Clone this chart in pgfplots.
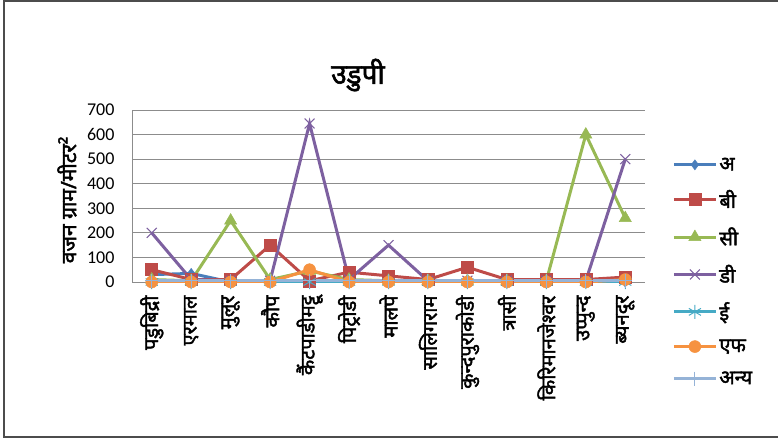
\documentclass[border=0pt]{standalone}
\usepackage{fontspec}
\setmainfont{Carlito}
\newfontfamily\deva[Script=Devanagari, FakeBold=2]{Noto Sans}
\usepackage{pgfplots}
\pgfplotsset{compat=1.18}
\usetikzlibrary{plotmarks}
\definecolor{sA}{HTML}{4A7EBB}
\definecolor{sB}{HTML}{BE4B48}
\definecolor{sC}{HTML}{98B954}
\definecolor{sD}{HTML}{7D60A0}
\definecolor{sE}{HTML}{46AAC5}
\definecolor{sF}{HTML}{F69240}
\definecolor{sG}{HTML}{95B3D7}
\begin{document}
\begin{tikzpicture}[x=1pt,y=1pt]
\useasboundingbox (0,0) rectangle (778,440);
\draw[black!70, line width=1.5pt] (778,439) -- (4,439) -- (4,3) -- (778,3);
\node[font=\deva\fontsize{28}{32}\selectfont] at (358,365) {उडुपी};
\node[rotate=90, font=\deva\fontsize{21}{24}\selectfont] at (67,240) {वजन ग्राम/मीटर²};
\begin{axis}[at={(132pt,158pt)}, anchor=south west, scale only axis,
  width=513pt, height=172pt,
  xmin=-0.5, xmax=12.5, ymin=0, ymax=700,
  ytick={0,100,...,700}, xtick={0,...,12},
  xticklabels={पडुबिद्री,एरमाल,मुलूर,कौप,कैंटपाडीमट्टू,पिट्रोडी,मालपे,सालिगराम,कुन्दपुराकोडी,त्रासी,किरिमानजेश्वर,उप्पुन्द,ब्यनदूर},
  xticklabel style={rotate=90, anchor=east, font=\deva\fontsize{20}{22}\selectfont},
  yticklabel style={font=\fontsize{18}{20}\selectfont},
  /pgf/number format/assume math mode=true,
  major tick length=0pt,
  ymajorgrids, grid style={black!45, line width=1pt},
  axis x line=bottom, axis y line=left,
  axis line style={-, black!45, line width=1pt},
  x tick label style={xshift=-10pt},
  y tick label style={xshift=-14pt},
  legend style={draw=none, fill=none, at={(rel axis cs:1.053,0.735)}, anchor=north west,
    font=\deva\fontsize{20}{22}\selectfont, row sep=14pt, inner sep=0pt},
  legend cell align=left,
  legend image code/.code={\draw[mark repeat=2,mark phase=2] plot coordinates {(0pt,0pt)(21pt,0pt)(42pt,0pt)};},
  every axis plot/.append style={line width=3pt},
]
\addplot[color=sA, mark=diamond*, mark size=5pt, mark options={solid, line width=0.5pt}]
 coordinates {(0,30)(1,35)(2,0)(3,0)(4,5)(5,0)(6,0)(7,0)(8,0)(9,0)(10,0)(11,0)(12,0)};
\addlegendentry{अ}
\addplot[color=sB, mark=square*, mark size=6pt, mark options={solid, line width=0.5pt}]
 coordinates {(0,50)(1,10)(2,10)(3,150)(4,5)(5,40)(6,25)(7,10)(8,60)(9,10)(10,10)(11,10)(12,20)};
\addlegendentry{बी}
\addplot[color=sC, mark=triangle*, mark size=7pt, mark options={solid, line width=0.5pt}]
 coordinates {(0,10)(1,5)(2,250)(3,10)(4,45)(5,10)(6,5)(7,5)(8,5)(9,5)(10,5)(11,600)(12,260)};
\addlegendentry{सी}
\addplot[color=sD, mark=x, mark size=7pt, mark options={solid, line width=1pt}]
 coordinates {(0,200)(1,10)(2,5)(3,5)(4,645)(5,10)(6,150)(7,5)(8,5)(9,5)(10,5)(11,5)(12,500)};
\addlegendentry{डी}
\addplot[color=sE, mark=asterisk, mark size=7pt, mark options={solid, line width=1pt}]
 coordinates {(0,0)(1,0)(2,0)(3,0)(4,0)(5,0)(6,0)(7,0)(8,0)(9,0)(10,0)(11,0)(12,0)};
\addlegendentry{ई}
\addplot[color=sF, mark=*, mark size=6pt, mark options={solid, line width=0.5pt}]
 coordinates {(0,0)(1,0)(2,0)(3,0)(4,50)(5,0)(6,0)(7,0)(8,0)(9,0)(10,0)(11,0)(12,10)};
\addlegendentry{एफ}
\addplot[color=sG, mark=+, mark size=7pt, mark options={solid, line width=1pt}]
 coordinates {(0,5)(1,5)(2,5)(3,5)(4,5)(5,5)(6,5)(7,5)(8,5)(9,5)(10,5)(11,5)(12,5)};
\addlegendentry{अन्य}
\end{axis}
\end{tikzpicture}
\end{document}
